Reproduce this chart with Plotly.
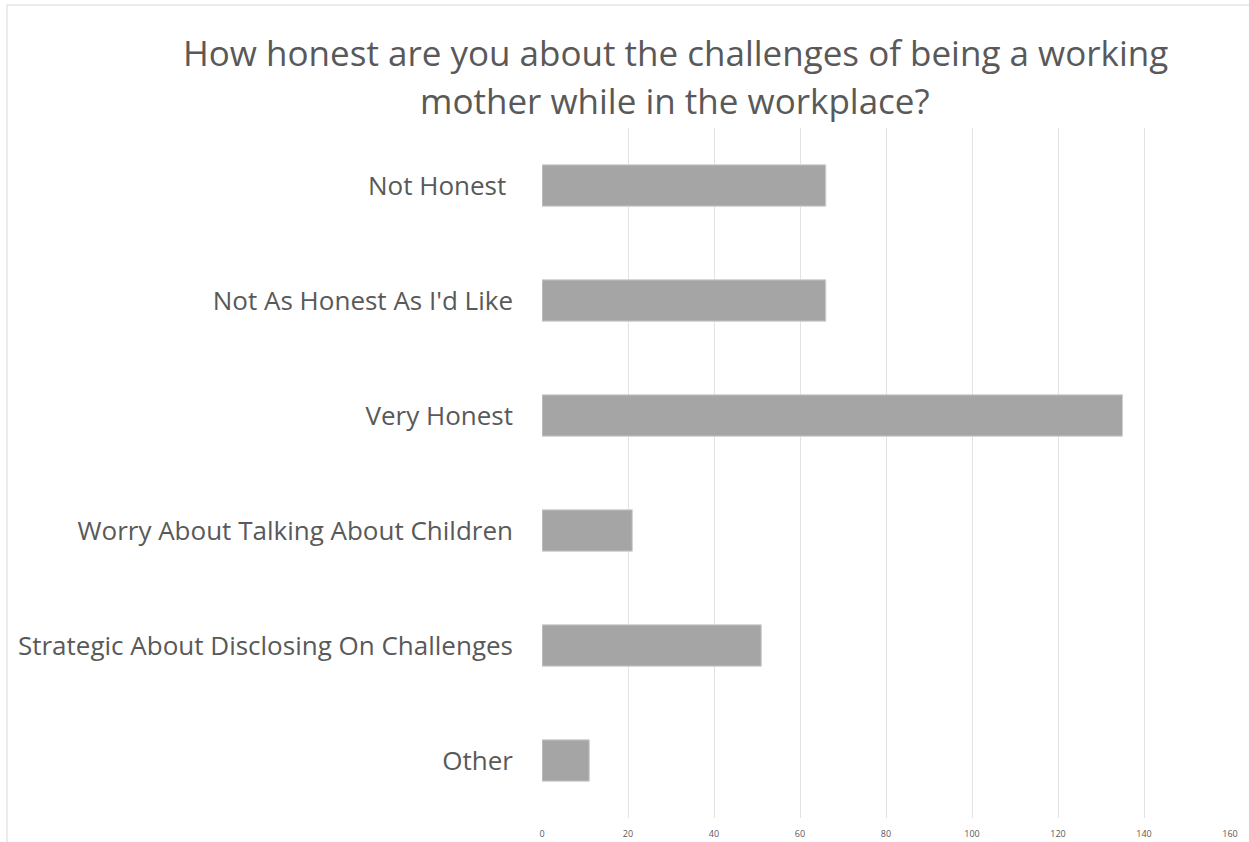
import plotly.graph_objects as go

categories = [
    "Not Honest ",
    "Not As Honest As I'd Like",
    "Very Honest",
    "Worry About Talking About Children",
    "Strategic About Disclosing On Challenges",
    "Other",
]
counts = [66, 66, 135, 21, 51, 11]
x_ticks = [0, 20, 40, 60, 80, 100, 120, 140, 160]
title_lines = [
    "How honest are you about the challenges of being a working",
    "mother while in the workplace?",
]

W, H = 1249, 842
L, R, T, B = 542, 19, 128, 24
pw, ph = W - L - R, H - T - B

TEXT = "#595959"
FONT = "Open Sans"


def px_x(px):
    return (px - L) / pw


def px_y(py):
    return (H - B - py) / ph


fig = go.Figure(
    go.Bar(
        x=counts,
        y=categories,
        orientation="h",
        marker=dict(color="#A5A5A5", line=dict(color="#D0D0D0", width=1)),
        width=0.36,
    )
)

annotations = [
    dict(
        text=line,
        xref="paper",
        yref="paper",
        x=px_x(675),
        y=px_y(cy),
        xanchor="center",
        yanchor="middle",
        showarrow=False,
        font=dict(family=FONT, size=35, color=TEXT),
    )
    for line, cy in zip(title_lines, [52, 100])
]

fig.update_layout(
    width=W,
    height=H,
    margin=dict(l=L, r=R, t=T, b=B, autoexpand=False),
    paper_bgcolor="white",
    plot_bgcolor="white",
    showlegend=False,
    annotations=annotations,
    xaxis=dict(
        range=[0, 160],
        tickvals=x_ticks,
        ticktext=[str(v) for v in x_ticks],
        showgrid=True,
        gridcolor="#E3E3E3",
        gridwidth=1,
        zeroline=False,
        showline=False,
        ticks="outside",
        ticklen=7,
        tickcolor="rgba(0,0,0,0)",
        tickfont=dict(family=FONT, size=9, color=TEXT),
        automargin=False,
        fixedrange=True,
    ),
    yaxis=dict(
        categoryorder="array",
        categoryarray=categories,
        autorange="reversed",
        showgrid=False,
        zeroline=False,
        showline=False,
        tickfont=dict(family=FONT, size=26, color=TEXT),
        ticklabelstandoff=28,
        automargin=False,
        fixedrange=True,
    ),
    shapes=[
        dict(
            type="rect",
            xref="paper",
            yref="paper",
            x0=px_x(7),
            x1=px_x(W + 60),
            y0=px_y(H + 60),
            y1=px_y(5),
            line=dict(color="#D9D9D9", width=1),
            fillcolor="rgba(0,0,0,0)",
            layer="below",
        )
    ],
)

fig.write_html("out.html")
